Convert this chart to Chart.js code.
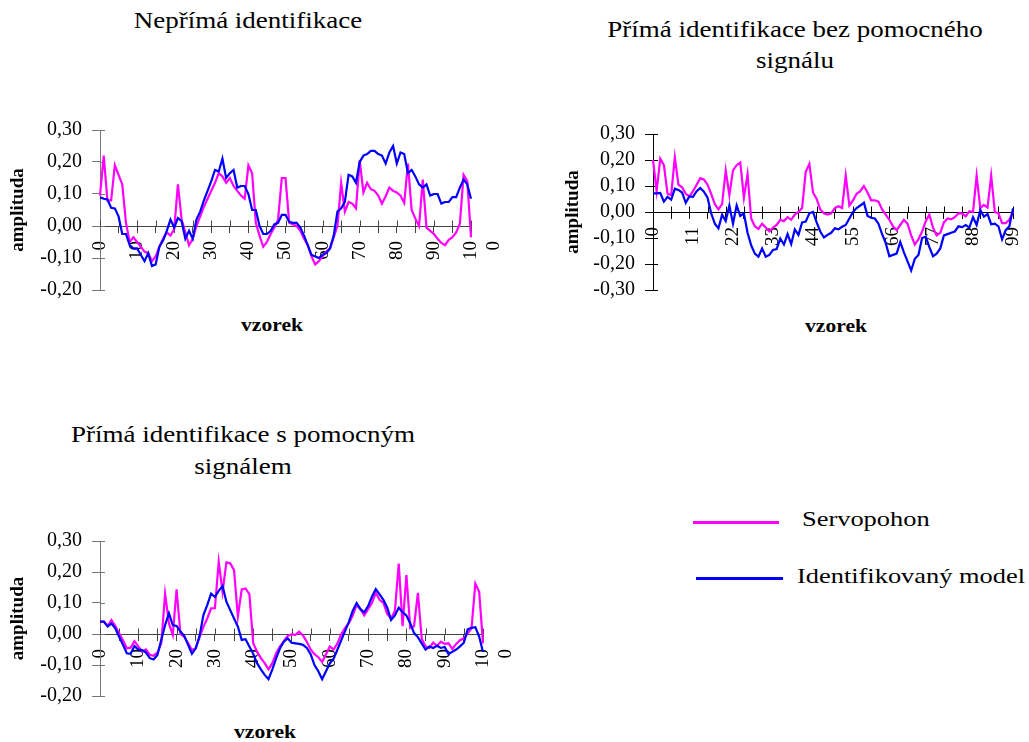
<!DOCTYPE html>
<html>
<head>
<meta charset="utf-8">
<script src="https://cdn.jsdelivr.net/npm/chart.js@4.4.0/dist/chart.umd.min.js"></script>
<style>
  html, body { margin: 0; padding: 0; background: #fff; overflow: hidden; }
  body { width: 1029px; height: 742px; position: relative; }
  canvas { position: absolute; }
  .txt { position: absolute; white-space: nowrap; line-height: 1; color: #000;
         font-family: "Liberation Serif", "Times New Roman", serif; }
  .c { width: 600px; text-align: center; transform: scaleX(1.2); transform-origin: 50% 50%; }
  .l { transform: scaleX(1.2); transform-origin: 0 50%; }
  .ttl { font-size: 22.5px; }
  .ax { font-size: 18px; font-weight: bold; }
  .leg { font-size: 22px; }
  .ln { position: absolute; height: 2.5px; }
</style>
</head>
<body>
<!-- titulky grafu -->
<div class="txt c ttl" style="left:-52.5px; top:9.5px">Nepřímá identifikace</div>
<div class="txt c ttl" style="left:494.5px; top:19.2px">Přímá identifikace bez pomocného</div>
<div class="txt c ttl" style="left:494.5px; top:50.2px">signálu</div>
<div class="txt c ttl" style="left:-57.5px; top:424.2px">Přímá identifikace s pomocným</div>
<div class="txt c ttl" style="left:-57.5px; top:456.2px">signálem</div>

<!-- popisky osy x -->
<div class="txt c ax" style="left:-28px; top:316px">vzorek</div>
<div class="txt c ax" style="left:536px; top:317px">vzorek</div>
<div class="txt c ax" style="left:-35px; top:723px">vzorek</div>

<canvas id="graf1" width="527" height="240" style="left:0; top:100px"></canvas>
<canvas id="graf2" width="490" height="240" style="left:560px; top:100px"></canvas>
<canvas id="graf3" width="545" height="240" style="left:0; top:500px"></canvas>

<!-- legenda -->
<div class="ln" style="left:693px; top:521px; width:86px; background:#ff00ff"></div>
<div class="txt l leg" style="left:801.7px; top:507.6px">Servopohon</div>
<div class="ln" style="left:696px; top:577px; width:87px; background:#0000ff"></div>
<div class="txt l leg" style="left:797.3px; top:564.9px">Identifikovaný model</div>

<script>
// === DATA ===
const vzorky101 = Array.from({ length: 101 }, (_, i) => i);
const vzorky100 = Array.from({ length: 100 }, (_, i) => i);

// popisky osy x (kazdy 10. / 11. vzorek)
const xPopisky1 = ["0", "10", "20", "30", "40", "50", "60", "70", "80", "90", ["10", "0"]];
const xPopisky2 = ["0", "11", "22", "33", "44", "55", "66", "77", "88", "99"];

// Neprima identifikace
const servo1 = [
  0.095, 0.22, 0.08, 0.08, 0.19, 0.16, 0.13, 0.01, -0.05, -0.035,
  -0.05, -0.065, -0.08, -0.085, -0.11, -0.095, -0.065, -0.04, -0.02, -0.03,
  -0.01, 0.13, 0.02, -0.02, -0.06, -0.04, 0.0, 0.03, 0.06, 0.085,
  0.11, 0.135, 0.165, 0.155, 0.135, 0.15, 0.125, 0.11, 0.095, 0.085,
  0.19, 0.165, 0.01, -0.03, -0.065, -0.05, -0.025, -0.005, 0.02, 0.15,
  0.15, 0.01, 0.005, 0.0, -0.015, -0.04, -0.06, -0.095, -0.12, -0.11,
  -0.095, -0.08, -0.07, -0.035, 0.0, 0.135, 0.045, 0.075, 0.07, 0.055,
  0.205, 0.105, 0.135, 0.115, 0.11, 0.095, 0.07, 0.093, 0.12, 0.11,
  0.105, 0.095, 0.072, 0.195, 0.05, 0.023, 0.0, 0.145, -0.005, -0.015,
  -0.025, -0.04, -0.053, -0.06, -0.043, -0.035, -0.02, 0.007, 0.16, 0.14,
  -0.035
];
const model1 = [
  0.09, 0.085, 0.083, 0.057, 0.055, 0.03, -0.025, -0.025, -0.06, -0.07,
  -0.07, -0.09, -0.11, -0.085, -0.125, -0.12, -0.065, -0.045, -0.015, 0.02,
  -0.005, 0.025, 0.015, -0.04, -0.015, -0.04, 0.02, 0.045, 0.08, 0.11,
  0.14, 0.175, 0.17, 0.21, 0.15, 0.165, 0.175, 0.12, 0.125, 0.125,
  0.1, 0.05, 0.05, 0.0, -0.025, -0.025, -0.015, 0.005, 0.01, 0.035,
  0.035, 0.013, 0.01, 0.01, -0.005, -0.03, -0.06, -0.09, -0.095, -0.1,
  -0.09, -0.085, -0.07, -0.03, 0.045, 0.055, 0.075, 0.16, 0.155, 0.135,
  0.2, 0.22, 0.225, 0.235, 0.235, 0.225, 0.22, 0.195, 0.23, 0.25,
  0.195, 0.23, 0.225, 0.165, 0.175, 0.155, 0.13, 0.12, 0.13, 0.095,
  0.1, 0.1, 0.07, 0.075, 0.075, 0.09, 0.09, 0.12, 0.145, 0.13,
  0.085
];

// Prima identifikace bez pomocneho signalu
const servo2 = [
  0.2, 0.08, 0.205, 0.18, 0.07, 0.065, 0.21, 0.105, 0.095, 0.07,
  0.06, 0.08, 0.105, 0.13, 0.125, 0.105, 0.07, 0.03, 0.01, 0.03,
  0.16, 0.065, 0.16, 0.18, 0.19, 0.055, 0.145, -0.025, -0.055, -0.065,
  -0.045, -0.06, -0.075, -0.06, -0.05, -0.03, -0.035, -0.02, -0.03, -0.01,
  0.0, 0.015, 0.155, 0.185, 0.075, 0.05, 0.01, -0.005, -0.01, -0.005,
  0.015, 0.022, 0.015, 0.14, 0.025, 0.045, 0.07, 0.08, 0.1, 0.075,
  0.045, 0.045, 0.04, 0.01, -0.01, -0.03, -0.055, -0.07, -0.05, -0.03,
  -0.045, -0.09, -0.125, -0.105, -0.075, -0.035, -0.01, -0.06, -0.09, -0.08,
  -0.04, -0.025, -0.028, -0.02, -0.005, -0.005, -0.017, 0.003, 0.0, 0.14,
  0.015, 0.027, 0.017, 0.14, 0.0, -0.005, -0.043, -0.043, -0.03, 0.0
];
const model2 = [
  0.072, 0.072, 0.073, 0.04, 0.058, 0.047, 0.09, 0.085, 0.075, 0.035,
  0.06, 0.058, 0.08, 0.092, 0.078, 0.055, -0.005, -0.045, -0.063, -0.01,
  -0.035, 0.025, -0.045, 0.025, -0.015, -0.005, -0.08, -0.128, -0.16, -0.172,
  -0.14, -0.172, -0.165, -0.146, -0.143, -0.102, -0.125, -0.085, -0.123, -0.067,
  -0.088, -0.04, -0.037, -0.005, 0.0, -0.04, -0.075, -0.098, -0.088, -0.08,
  -0.063, -0.067, -0.057, -0.05, -0.025, 0.0, 0.015, 0.025, 0.036, -0.015,
  -0.022, -0.025, -0.045, -0.085, -0.12, -0.17, -0.165, -0.16, -0.115, -0.155,
  -0.19, -0.225, -0.18, -0.165, -0.1, -0.095, -0.135, -0.17, -0.16, -0.14,
  -0.09, -0.085, -0.08, -0.075, -0.055, -0.058, -0.05, -0.06, -0.02, -0.05,
  0.008, -0.018, -0.008, -0.047, -0.045, -0.055, -0.105, -0.07, -0.055, 0.014
];

// Prima identifikace s pomocnym signalem
const servo3 = [
  0.04, 0.04, 0.026, 0.045, 0.026, 0.002, -0.02, -0.046, -0.044, -0.023,
  -0.04, -0.057, -0.05, -0.067, -0.07, -0.06, -0.03, 0.13, 0.034, -0.003,
  0.144, 0.0, -0.009, -0.03, -0.052, -0.046, -0.01, 0.023, 0.05, 0.083,
  0.083, 0.233, 0.136, 0.231, 0.228, 0.206, 0.056, 0.144, 0.147, 0.129,
  -0.03, -0.057, -0.078, -0.094, -0.114, -0.094, -0.062, -0.04, -0.023, -0.006,
  -0.001, -0.003, 0.007, -0.005, -0.025, -0.05, -0.065, -0.075, -0.09, -0.065,
  -0.04, -0.05, -0.03, 0.0, 0.02, 0.035, 0.06, 0.093, 0.08, 0.06,
  0.08, 0.1, 0.133, 0.11, 0.1, 0.065, 0.05, 0.075, 0.227, 0.025,
  0.19, 0.02, 0.025, 0.133, -0.015, -0.04, -0.045, -0.028, -0.038, -0.025,
  -0.032, -0.03, -0.048, -0.032, -0.02, -0.014, 0.002, 0.018, 0.163, 0.136,
  -0.03
];
const model3 = [
  0.04, 0.04, 0.024, 0.034, 0.018, -0.009, -0.035, -0.062, -0.064, -0.039,
  -0.05, -0.052, -0.06, -0.078, -0.082, -0.068, -0.019, 0.029, 0.067, 0.029,
  0.026, 0.008, -0.006, -0.035, -0.064, -0.046, -0.006, 0.061, 0.093, 0.13,
  0.12, 0.139, 0.155, 0.104, 0.077, 0.05, 0.024, -0.019, -0.017, -0.04,
  -0.064, -0.094, -0.114, -0.132, -0.146, -0.114, -0.078, -0.046, -0.025, -0.014,
  -0.028, -0.03, -0.032, -0.035, -0.045, -0.065, -0.1, -0.12, -0.146, -0.12,
  -0.095, -0.08, -0.05, -0.02, 0.01, 0.04, 0.075, 0.1, 0.08, 0.07,
  0.09, 0.12, 0.145, 0.128, 0.11, 0.085, 0.045, 0.06, 0.085, 0.07,
  0.06, 0.035, 0.003, -0.01, -0.03, -0.05, -0.04, -0.045, -0.038, -0.045,
  -0.042, -0.065, -0.057, -0.05, -0.04, -0.028, 0.015, 0.02, 0.022, -0.008,
  -0.058
];

Chart.defaults.font.family = "'Liberation Serif', 'Times New Roman', serif";
Chart.defaults.color = "#000";

// === FUNKCE ===
function formatY(v) {
  return v.toFixed(2).replace(".", ",");
}

// znacky os pres osu (Excel "krizove" znacky)
const krizoveZnacky = {
  id: "krizoveZnacky",
  beforeDatasetsDraw(chart) {
    const { ctx, chartArea, scales } = chart;
    const x = scales.x, y = scales.y;
    const y0 = Math.round(y.getPixelForValue(0)) + 0.5;
    const posledni = x.ticks.length - 1;
    ctx.save();
    ctx.lineWidth = 1;
    ctx.strokeStyle = y.options.border.color;
    y.ticks.forEach((t) => {
      const py = Math.round(y.getPixelForValue(t.value)) + 0.5;
      ctx.beginPath();
      ctx.moveTo(chartArea.left, py);
      ctx.lineTo(chartArea.left + 5, py);
      ctx.stroke();
    });
    ctx.strokeStyle = x.options.border.color;
    x.ticks.forEach((t, i) => {
      if (i % 5 !== 0 && i !== posledni) return;
      const px = Math.round(x.getPixelForTick(i)) + 0.5;
      ctx.beginPath();
      ctx.moveTo(px, y0);
      ctx.lineTo(px, y0 - 6);
      ctx.stroke();
    });
    ctx.restore();
  }
};

function drawPanel(id, vzorky, servo, model, cfg) {
  const posledni = vzorky.length - 1;
  new Chart(document.getElementById(id), {
    type: "line",
    data: {
      labels: vzorky,
      datasets: [
        { label: "Servopohon", data: servo, borderColor: "#ff00ff", borderWidth: 2.2,
          pointRadius: 0, tension: 0, order: 1 },
        { label: "Identifikovaný model", data: model, borderColor: "#0000ff", borderWidth: 2.2,
          pointRadius: 0, tension: 0, order: 0 }
      ]
    },
    plugins: [krizoveZnacky],
    options: {
      responsive: false,
      animation: false,
      events: [],
      layout: { padding: cfg.padding },
      plugins: { legend: { display: false }, tooltip: { enabled: false } },
      scales: {
        x: {
          type: "category",
          position: { y: 0 },
          border: { color: cfg.xColor, width: 1 },
          grid: {
            drawOnChartArea: false,
            tickLength: 6,
            tickColor: (ctx) => (ctx.index % 5 === 0 || ctx.index === posledni ? cfg.xColor : "rgba(0,0,0,0)")
          },
          ticks: {
            autoSkip: false,
            minRotation: 90,
            maxRotation: 90,
            padding: 9,
            font: { size: 19 },
            callback: (v, i) => (i % cfg.krok === 0 ? cfg.popisky[i / cfg.krok] : "")
          }
        },
        y: {
          min: cfg.yMin,
          max: cfg.yMax,
          border: { color: cfg.yColor, width: 1 },
          grid: { drawOnChartArea: false, tickLength: 8, tickColor: cfg.yColor },
          ticks: { stepSize: 0.1, autoSkip: false, padding: 10, font: { size: 20 }, callback: formatY },
          title: { display: true, text: "amplituda", padding: 0, font: { size: 19, weight: "bold" } },
          afterFit: (scale) => { scale.width = cfg.yWidth; }
        }
      }
    }
  });
}

// === GRAFY ===
drawPanel("graf1", vzorky101, servo1, model1, {
  padding: { left: 7, top: 30, bottom: 50, right: 56 },
  yWidth: 93, yMin: -0.2, yMax: 0.3,
  xColor: "#444", yColor: "#777",
  krok: 10, popisky: xPopisky1
});

drawPanel("graf2", vzorky100, servo2, model2, {
  padding: { left: 2, top: 34, bottom: 50, right: 37 },
  yWidth: 91, yMin: -0.3, yMax: 0.3,
  xColor: "#000", yColor: "#000",
  krok: 11, popisky: xPopisky2
});

drawPanel("graf3", vzorky101, servo3, model3, {
  padding: { left: 7, top: 41, bottom: 44, right: 62 },
  yWidth: 93, yMin: -0.2, yMax: 0.3,
  xColor: "#444", yColor: "#777",
  krok: 10, popisky: xPopisky1
});
</script>
</body>
</html>
